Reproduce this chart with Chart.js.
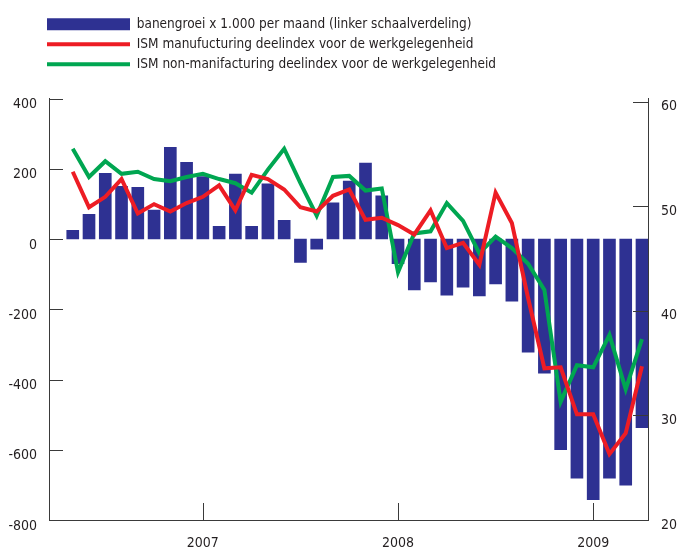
<!DOCTYPE html>
<html>
<head>
<meta charset="utf-8">
<script src="https://cdn.jsdelivr.net/npm/chart.js@4.4.1/dist/chart.umd.min.js"></script>
<style>
  body { margin: 0; background: #fff; }
</style>
</head>
<body>
<canvas id="banenChart" width="679" height="548"></canvas>
<script>
  // maanden mei 2006 t/m april 2009
  const maanden = [
    "2006-05", "2006-06", "2006-07", "2006-08", "2006-09", "2006-10", "2006-11", "2006-12",
    "2007-01", "2007-02", "2007-03", "2007-04", "2007-05", "2007-06", "2007-07", "2007-08",
    "2007-09", "2007-10", "2007-11", "2007-12",
    "2008-01", "2008-02", "2008-03", "2008-04", "2008-05", "2008-06", "2008-07", "2008-08",
    "2008-09", "2008-10", "2008-11", "2008-12",
    "2009-01", "2009-02", "2009-03", "2009-04"
  ];
  const jaarLabels = ["2007", "2008", "2009"];

  // banengroei x 1.000 per maand
  const banengroei = [
    25, 70, 187, 150, 147, 82, 261, 218,
    178, 36, 185, 36, 157, 53, -67, -29,
    103, 165, 216, 123,
    -70, -145, -122, -160, -137, -162, -128, -177,
    -322, -382, -600, -681,
    -742, -681, -701, -537
  ];
  // ISM manufacturing deelindex werkgelegenheid
  const ismIndustrie = [
    53.3, 49.9, 50.9, 52.6, 49.3, 50.2, 49.5, 50.3,
    50.9, 52.0, 49.6, 53.0, 52.6, 51.6, 49.9, 49.5,
    51.0, 51.6, 48.7, 48.9,
    48.2, 47.3, 49.6, 46.0, 46.5, 44.4, 51.3, 48.4,
    41.2, 34.5, 34.6, 30.1,
    30.1, 26.3, 28.3, 34.7
  ];
  // ISM non-manufacturing deelindex werkgelegenheid
  const ismDiensten = [
    55.5, 52.8, 54.3, 53.1, 53.3, 52.6, 52.4, 52.8,
    53.1, 52.6, 52.2, 51.3, 53.5, 55.5, 52.2, 49.1,
    52.8, 52.9, 51.5, 51.7,
    43.7, 47.4, 47.6, 50.3, 48.6, 45.5, 47.1, 46.0,
    44.5, 42.0, 31.3, 34.8,
    34.6, 37.7, 32.5, 37.3
  ];
  const linksTicks = [-800, -600, -400, -200, 0, 200, 400];
  const rechtsTicks = [20, 30, 40, 50, 60];

  const tekstKleur = "#231f20";
  const asKleur = "#3a3a3a";
  Chart.defaults.font.family = "'DejaVu Sans Condensed', 'DejaVu Sans', sans-serif";
  Chart.defaults.font.size = 14;
  Chart.defaults.color = tekstKleur;

  const punten = (waarden) => waarden.map((v, i) => ({ x: i, y: v }));
  const jaarIndex = jaarLabels.map((j) => maanden.indexOf(j + "-01"));

  // tickstreepjes aan de binnenkant van de assen
  const binnenTicks = {
    id: "binnenTicks",
    afterLayout(chart) {
      // legenda begint links boven de as, niet tegen de rand
      chart.legend.left = 40.5;
    },
    afterDraw(chart) {
      const { ctx, chartArea: a, scales } = chart;
      ctx.save();
      ctx.strokeStyle = asKleur;
      ctx.lineWidth = 1;
      ctx.beginPath();
      scales.y.ticks.forEach((t) => {
        const y = Math.round(scales.y.getPixelForValue(t.value)) + 0.5;
        ctx.moveTo(a.left, y);
        ctx.lineTo(a.left + 14, y);
      });
      scales.y2.ticks.forEach((t) => {
        const y = Math.round(scales.y2.getPixelForValue(t.value)) + 0.5;
        ctx.moveTo(a.right, y);
        ctx.lineTo(a.right - 15, y);
      });
      scales.x.ticks.forEach((t) => {
        const x = Math.round(scales.x.getPixelForValue(t.value)) + 0.5;
        ctx.moveTo(x, a.bottom);
        ctx.lineTo(x, a.bottom - 17);
      });
      ctx.stroke();
      ctx.restore();
    },
  };

  const ctx = document.getElementById("banenChart").getContext("2d");
  const myChart = new Chart(ctx, {
    type: "bar",
    data: {
      datasets: [
        {
          label: "banengroei x 1.000 per maand (linker schaalverdeling)",
          data: punten(banengroei),
          backgroundColor: "#2e3192",
          borderWidth: 0,
          barThickness: 12,
          xAxisID: "x",
          yAxisID: "y",
          order: 1,
        },
        {
          type: "line",
          label: "ISM manufucturing deelindex voor de werkgelegenheid",
          data: punten(ismIndustrie),
          borderColor: "#ed1c24",
          backgroundColor: "#ed1c24",
          borderWidth: 4,
          tension: 0,
          pointRadius: 0,
          pointHoverRadius: 0,
          pointBorderWidth: 4,
          xAxisID: "x",
          yAxisID: "y2",
          order: 0,
        },
        {
          type: "line",
          label: "ISM non-manifacturing deelindex voor de werkgelegenheid",
          data: punten(ismDiensten),
          borderColor: "#00a651",
          backgroundColor: "#00a651",
          borderWidth: 4,
          tension: 0,
          pointRadius: 0,
          pointHoverRadius: 0,
          pointBorderWidth: 4,
          xAxisID: "x",
          yAxisID: "y2",
          order: 0,
        },
      ],
    },
    options: {
      responsive: false,
      animation: false,
      layout: { padding: { left: 0, top: 11, right: 0, bottom: 0 } },
      plugins: {
        tooltip: { enabled: false },
        legend: {
          position: "top",
          align: "start",
          labels: {
            usePointStyle: true,
            pointStyleWidth: 83,
            boxHeight: 12,
            padding: 6.5,
            color: tekstKleur,
            font: { size: 13.5 },
            sort: (a, b) => a.datasetIndex - b.datasetIndex,
            generateLabels: (chart) =>
              Chart.defaults.plugins.legend.labels.generateLabels(chart).map((item) => {
                item.pointStyle = item.datasetIndex === 0 ? "rect" : "line";
                if (item.datasetIndex === 0) item.lineWidth = 0;
                return item;
              }),
          },
        },
      },
      scales: {
        x: {
          type: "linear",
          position: "bottom",
          offset: false,
          min: -1.46,
          max: 35.37,
          grid: { display: false, drawTicks: false },
          border: { display: true, color: asKleur, width: 1 },
          afterBuildTicks: (s) => {
            s.ticks = jaarIndex.map((v) => ({ value: v }));
          },
          ticks: {
            padding: 15,
            maxRotation: 0,
            callback: (v) => jaarLabels[jaarIndex.indexOf(v)],
          },
          afterFit: (s) => {
            s.height = 28;
          },
        },
        ruimte: {
          type: "linear",
          position: "top",
          display: true,
          grid: { display: false, drawTicks: false },
          border: { display: false },
          ticks: { display: false },
          afterFit: (s) => {
            s.height = 17.5;
          },
        },
        y: {
          type: "linear",
          position: "left",
          min: -800,
          max: 400,
          grid: { display: false, drawTicks: false },
          border: { display: true, color: asKleur, width: 1 },
          afterBuildTicks: (s) => {
            s.ticks = linksTicks.map((v) => ({ value: v }));
          },
          ticks: { padding: 12, labelOffset: 6 },
          afterFit: (s) => {
            s.width = 49;
          },
        },
        y2: {
          type: "linear",
          position: "right",
          min: 20,
          max: 60.3,
          grid: { display: false, drawTicks: false },
          border: { display: true, color: asKleur, width: 1 },
          afterBuildTicks: (s) => {
            s.ticks = rechtsTicks.map((v) => ({ value: v }));
          },
          ticks: { padding: 13, labelOffset: 5 },
          afterFit: (s) => {
            s.width = 31;
          },
        },
      },
    },
    plugins: [binnenTicks],
  });
</script>
</body>
</html>
